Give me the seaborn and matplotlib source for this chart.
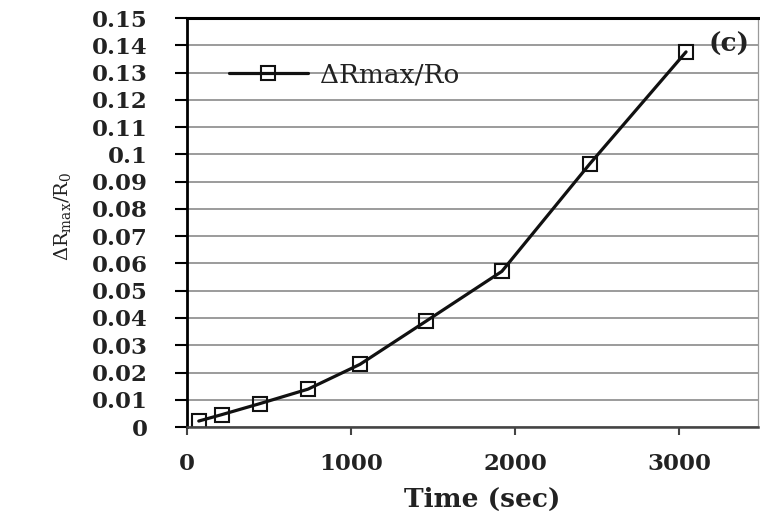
import matplotlib
matplotlib.use("Agg")
import matplotlib.pyplot as plt
from matplotlib.ticker import FuncFormatter, MultipleLocator
import seaborn as sns
import pandas as pd

# Maximum resistance change ratio over time
time_sec = [72, 215, 445, 738, 1055, 1457, 1920, 2457, 3043]
delta_r_ratio = [0.0022, 0.0046, 0.0086, 0.0139, 0.0230, 0.0388, 0.0571, 0.0966, 0.1376]
series_label = "ΔRmax/Ro"
x_ticks = [0, 1000, 2000, 3000]

df = pd.DataFrame({"time": time_sec, "ratio": delta_r_ratio, "series": series_label})

sns.set_style("white")
plt.rcParams["font.family"] = ["DejaVu Serif"]
plt.rcParams["mathtext.fontset"] = "dejavuserif"

fig = plt.figure(figsize=(7.6, 5.17), dpi=100)
ax = fig.add_axes([0.246, 0.174, 0.751, 0.791])

sns.lineplot(data=df, x="time", y="ratio", hue="series", palette=["#111111"],
             marker="s", markersize=10, markerfacecolor="none",
             markeredgecolor="#111111", markeredgewidth=1.5,
             linewidth=2.3, ax=ax, legend=True)

ax.set_xlim(0, 3480)
ax.set_ylim(0, 0.15)
ax.set_xticks(x_ticks)
ax.yaxis.set_major_locator(MultipleLocator(0.01))
ax.yaxis.set_major_formatter(FuncFormatter(lambda v, p: f"{round(v, 2):g}"))

ax.grid(axis="y", color="#8a8a8a", linewidth=1.2)
ax.grid(axis="x", visible=False)
ax.set_axisbelow(True)

for side, col, lw in [("left", "black", 2.0), ("top", "black", 2.2),
                      ("bottom", "#444444", 1.8), ("right", "#9a9a9a", 0.9)]:
    ax.spines[side].set_color(col)
    ax.spines[side].set_linewidth(lw)
    ax.spines[side].set_visible(True)

ax.tick_params(axis="y", left=True, direction="out", length=9, width=1.5,
               color="black", pad=19, labelsize=16.5)
ax.tick_params(axis="x", bottom=True, direction="out", length=6, width=1.5,
               color="#444444", pad=13, labelsize=16.5)
for lab in ax.get_xticklabels() + ax.get_yticklabels():
    lab.set_fontweight("bold")
    lab.set_color("#222222")

ax.set_xlabel("Time (sec)", fontsize=19, fontweight="bold", color="#222222")
ax.xaxis.set_label_coords(0.517, -0.147)
ax.set_ylabel(r"ΔR$_{\mathrm{max}}$/R$_0$", fontsize=14, color="#222222")
ax.yaxis.set_label_coords(-0.2, 0.516)

leg = ax.legend(loc="center left", bbox_to_anchor=(0.055, 0.862), frameon=False,
                fontsize=19, handlelength=3.0, handletextpad=0.45, borderaxespad=0)
for t in leg.get_texts():
    t.set_color("#222222")

ax.text(0.95, 0.935, "(c)", transform=ax.transAxes, ha="center", va="center",
        fontsize=19, fontweight="bold", color="#222222")

fig.savefig("out.png", dpi=100)
